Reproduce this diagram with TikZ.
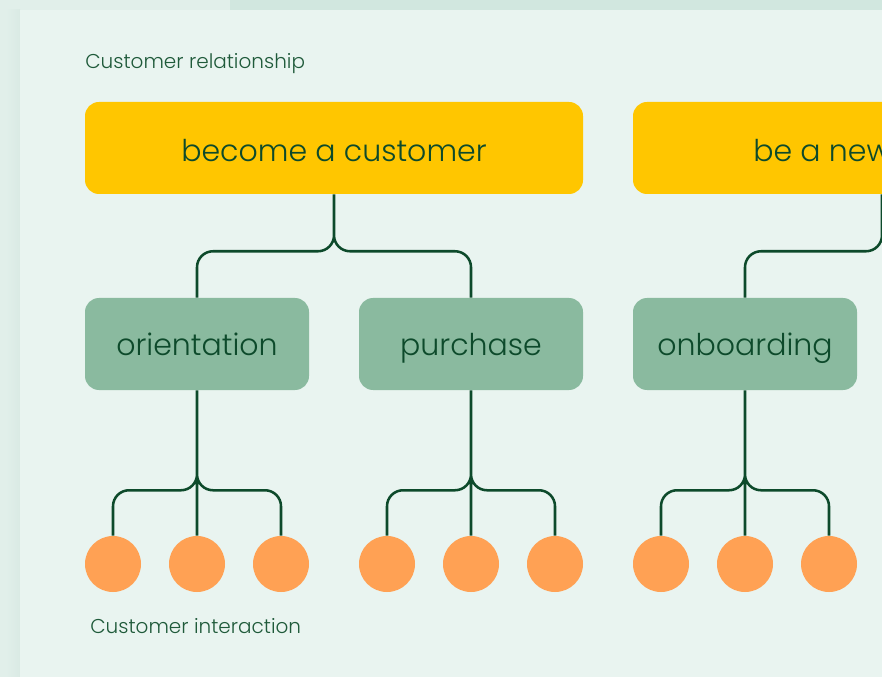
\documentclass[tikz,border=0pt]{standalone}
\usepackage{fontspec}
\setmainfont{Poppins Light}
\definecolor{outerbg}{HTML}{E1EFEA}
\definecolor{shadowbg}{HTML}{DAEAE4}
\definecolor{bandbg}{HTML}{D1E7DF}
\definecolor{panelbg}{HTML}{E9F4F0}
\definecolor{stagey}{HTML}{FFC600}
\definecolor{stepg}{HTML}{8ABA9F}
\definecolor{touch}{HTML}{FFA154}
\definecolor{ink}{HTML}{0D4A2B}
\definecolor{labelink}{HTML}{1F5A3A}
\tikzset{
  boxtext/.style={text=ink, inner sep=0pt, text depth=0pt,
    font=\fontsize{22.5}{26}\selectfont},
  stagebox/.style={boxtext, fill=stagey, rounded corners=10.5pt, minimum width=373.5pt,
    minimum height=69pt, text height=21pt},
  stepbox/.style={boxtext, fill=stepg, rounded corners=10.5pt, minimum width=168pt,
    minimum height=69pt, text height=18pt},
  touchdot/.style={circle, fill=touch, minimum size=42pt, inner sep=0pt},
  caption/.style={anchor=base west, text=labelink, inner sep=0pt, font=\fontsize{15}{18}\selectfont},
  link/.style={draw=ink, line width=1.9pt, rounded corners=12pt}
}
\begin{document}
\begin{tikzpicture}[x=0.75pt,y=-0.75pt]
\useasboundingbox (0,0) rectangle (882,677);
\begin{scope}
\clip (0,0) rectangle (882,677);
% backdrop, soft edge shadow and panel
\fill[outerbg] (0,0) rectangle (882,677);
\fill[bandbg] (230,0) rectangle (882,10);
\shade[left color=outerbg, right color=shadowbg] (6,10) rectangle (20,677);
\fill[panelbg] (20,10) rectangle (882,677);

\node[caption] (relcap) at (85,69) {Customer relationship};
\node[caption] (intcap) at (90,633) {Customer interaction};

% stages
\node[stagebox] (s1) at (334,148) {become a customer};
\node[stagebox] (s2) at (882,148) {};
\node[boxtext, anchor=base west] (s2text) at (753,162) {be a new customer};

% steps
\node[stepbox] (g1) at (197,344) {orientation};
\node[stepbox] (g2) at (471,344) {purchase};
\node[stepbox] (g3) at (745,344) {onboarding};

% touchpoints
\foreach \n/\x in {a/113,b/197,c/281,d/387,e/471,f/555,g/661,h/745,i/829}
  \node[touchdot] (t\n) at (\x,564) {};

% stage to step links
\draw[link] (s1.south) -- ++(0,57) -| (g1.north)
            (s1.south) -- ++(0,57) -| (g2.north);
\draw[link] (s2.south) -- ++(0,57) -| (g3.north);

% step to touchpoint links
\foreach \g/\l/\m/\r in {g1/a/b/c, g2/d/e/f, g3/g/h/i}{
  \draw[link] (\g.south) -- ++(0,100) -| (t\l.north)
              (\g.south) -- ++(0,100) -| (t\r.north)
              (\g.south) -- (t\m.north);
}
\end{scope}
\end{tikzpicture}
\end{document}
